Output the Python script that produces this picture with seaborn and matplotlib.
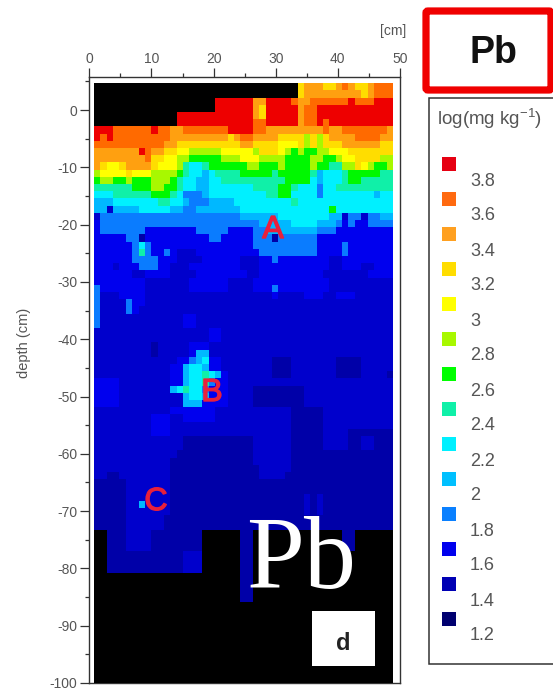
import re
import numpy as np
import pandas as pd
import seaborn as sns
import matplotlib
matplotlib.use("Agg")
import matplotlib.pyplot as plt
import matplotlib.patheffects as pe
from matplotlib.colors import ListedColormap, BoundaryNorm
from matplotlib.patches import Rectangle, FancyBboxPatch
from matplotlib.ticker import MultipleLocator

# ---- data: cell levels per 1.25 cm depth row, run-length coded across 47 columns ----
surface_rows = [
    "32. k 3l 2k l m l 2k l 3m", "32. k 9l k l 3m", "19. 6n 2l 4n m 2l 6m n 3m 3n",
    "19. 6n l k 5n l 2m 12n", "13. 12n l k 5n l 2m 12n", "13. 12n 2m 5n l 2m n m 10n",
    "3n 6m n 2m 2l 7m 4n 2m 5l 4l m 2l 7m l",
    "n m n 9m 9l k l 2m 4l 3k k i k i k 4l 4m 2l",
    "11m 2l 10k 2l 4k 3j k i k i 3k 6l 2k",
    "7l n m 2l 2k 2j 5i 5j i 3k j i h i 2h 2i 3j 7k",
    "8l m 2k 2j 2i 5h 3i 2j j i 3i 4h 2i 2h i 2j 4k 2i",
    "l k 2j k 4l k 3j i g 2f g 6h 2i 3h i 4h i 2h 2g 2i k j i 2h i",
    "i 4j k 3j 4i h g 2f e f 4g 5h g 5h g e 3f g 5h 2g",
    "h 2i 2h i 3h 3i h g 2f 2e 2f 10g 4h f e 3f g 2h 5g",
    "6g 3h 2i 2h g 2f 2e 7f 4g 2h g 3f d 2f 9g",
    "3f 3g 3g 3h g f 3d e 9f 2g 2h 4f d 8f e 2f",
    "3e 7f 2g 2f e 3d 4e 9f g 15f",
    "2e c 4e 5f 2e 2d 7e 14f h 9f",
    "c 22d 6e 8f 2e c 2d c 2d 2e",
]
upper_rows = [
    "C 25d 5e 4f 3e d C d 2C 4d",
    "C 7d 8C 5d 4C 2d 8e 3d 9C",
    "5C 2d b 10C 2d 5C 3d b 6d 12C",
    "6C d f d 16C 10d 4C d 7C",
    "6C d g d 2C d C 3c 10C 9d 4C d 7C",
    "6C 4d 3C 4c 6C 3c 2C d 8C 2c 2C 6C",
    "3C c 3C 3d 2C 3c 8C 3c 11C 2c 3C 2c 3C",
    "6C 2c 4C 4c 8C 2c 10C 7c 4C",
    "8C 7c 6C 4c 12C 10c",
    "d 7C 7c 6C 4c 3C d 8C 10c",
    "d 3c 4C 20c C 4c 3C 2c 3C 6c",
    "d 4c d 2C 39c", "d 4c d C 40c",
    "d 13c 2C 31c", "d 13c 2C 31c",
    "18c 2C 27c", "18c 2C 27c",
]
blob_rows = [
    "9c b 5c 3C 29c",
    "9c b 5c C 2e 29c",
    "13c 2C d e f C C 8c 3b 7c 4b 6c",
    "12c 2C e 2f e C C 8c 3b 7c 4b 6c",
    "12c 2C e 2f g f e C 7c 3b 7c 4b 4c b c",
    "4C 8c 2C e 2f g d 2C 26c",
    "4C 8c e f g 2f d 3C 4c 8b 14c",
    "4C 10c e 2f e 3C 4c 8b 14c",
    "4C 10c 3e 4C 4c 8b 14c",
    "12c 7C 6c 6c 5b 4c 7c",
    "9c 3C 2c 5C 12c 5b 4c 7c",
    "9c 3C 19c 5b 4c 7c",
    "9c 3C 19c 5b 4c 7b",
]
lower_rows = [
    "14c 11b 6c 5b 4c 2b 2c 3b", "14c 11b 6c 5b 4c 2b 2c 3b",
    "13c 12b 6c 16b", "12c 13b 6c 16b", "12c 14b 5c 16b",
    "2c 2b 8c 14b 4c 17b", "5b 7c 35b", "5b 7c 35b",
    "5b 7c 21b c b c 11b", "5b 2c e 4c 21b c b c 11b", "5b 7c 21b c b c 11b",
    "5b 6c 36b", "5b 6c 36b",
]
bottom_rows = [
    "2. 3b 4c 8b 6. 2b 14. 2b 6.", "2. 3b 4c 8b 6. 2b 14. 2b 6.", "2. 3b 4c 8b 6. 2b 14. 2b 6.",
    "2. 12b 3c 6. 2b 22.", "2. 12b 3c 6. 2b 22.", "2. 12b 3c 6. 2b 22.",
    "23. 2b 22.", "23. 2b 22.", "23. 2b 22.", "23. 2b 22.",
] + ["47."] * 12

level_codes = list("abcCdefghijklmn")
level_values = [1.2, 1.4, 1.5, 1.6, 1.8, 2.0, 2.2, 2.4, 2.6, 2.8, 3.0, 3.2, 3.4, 3.6, 3.8]
level_colors = ["#000078", "#0000a8", "#0000cc", "#0000ee", "#0a7cff", "#00b8ff", "#00f0ff",
                "#10f0a8", "#00f800", "#a8f800", "#ffff00", "#ffdd00", "#ffa010", "#ff6a00", "#ee0000"]

legend_labels = ["3.8", "3.6", "3.4", "3.2", "3", "2.8", "2.6", "2.4", "2.2", "2", "1.8", "1.6", "1.4", "1.2"]
legend_colors = ["#e60012", "#ff6a10", "#ffa020", "#ffdd00", "#ffff00", "#a8f800", "#00ff00",
                 "#10f0a8", "#00f0ff", "#00c0ff", "#0a80ff", "#0000ee", "#0000b4", "#000070"]
sample_labels = ["A", "B", "C"]

n_cols = 47


def decode(row):
    cells = []
    for count, code in re.findall(r"(\d*)(\S)", row):
        cells += [code] * int(count or 1)
    cells = (cells + cells[-1:] * n_cols)[:n_cols]
    lookup = dict(zip(level_codes, level_values))
    return [lookup.get(c, np.nan) for c in cells]


all_rows = surface_rows + upper_rows + blob_rows + lower_rows + bottom_rows
grid = pd.DataFrame([decode(r) for r in all_rows])

# ---- style ----
W, H = 553, 690
sns.set_theme(style="ticks")
plt.rcParams["font.family"] = ["Liberation Sans", "DejaVu Sans"]
plt.rcParams["axes.unicode_minus"] = False
plt.rcParams["mathtext.default"] = "regular"
ink = "#555555"
edge = "#333333"

fig = plt.figure(figsize=(W / 100, H / 100), dpi=100, facecolor="white")


def px_axes(left, top, right, bottom, **kw):
    return fig.add_axes([left / W, 1 - bottom / H, (right - left) / W, (bottom - top) / H], **kw)


# frame with ticks in real units
ax = px_axes(89.3, 77, 400, 683)
ax.set_xlim(0, 50)
ax.set_ylim(-100, 5.76)
ax.xaxis.tick_top()
ax.xaxis.set_major_locator(MultipleLocator(10))
ax.xaxis.set_minor_locator(MultipleLocator(5))
ax.yaxis.set_major_locator(MultipleLocator(10))
ax.yaxis.set_minor_locator(MultipleLocator(5))
ax.tick_params(axis="both", which="major", length=6.5, width=0.9, color=edge,
               labelcolor=ink, labelsize=10, pad=2)
ax.tick_params(axis="x", which="major", pad=1.2)
ax.tick_params(axis="both", which="minor", length=3, width=0.9, color=edge)
ax.xaxis.set_tick_params(which="both", top=True, bottom=False)
for s in ax.spines.values():
    s.set_visible(True)
    s.set_color(edge)
    s.set_linewidth(1.0)

# heat map
heat = px_axes(94, 83.3, 393, 683)
heat.set_facecolor("black")
edges = [0.0, 1.3, 1.45, 1.55, 1.7, 1.9, 2.1, 2.3, 2.5, 2.7, 2.9, 3.1, 3.3, 3.5, 3.7, 3.9]
sns.heatmap(grid, ax=heat, cmap=ListedColormap(level_colors),
            norm=BoundaryNorm(edges, len(level_colors)), cbar=False,
            xticklabels=False, yticklabels=False, linewidths=0)
heat.set_facecolor("black")
heat.set_ylim(83.3, 0)
heat.set_xlim(0, n_cols)
heat.set_xlabel("")
heat.set_ylabel("")

# overlay in picture pixels: annotations and the legend
over = fig.add_axes([0, 0, 1, 1], facecolor="none")
over.set_xlim(0, W)
over.set_ylim(H, 0)
over.axis("off")

over.text(24, 343, "depth (cm)", ha="center", va="center", rotation=90, fontsize=10.5, color=ink)
over.text(393, 31, "[cm]", ha="center", va="center", fontsize=10, color=ink)
sample_pos = [(273, 230), (212, 393), (156, 502)]
for lab, (x, y) in zip(sample_labels, sample_pos):
    over.text(x, y, lab, ha="center", va="center", fontsize=23, color="#e8203c",
              path_effects=[pe.withStroke(linewidth=1.0, foreground="#e8203c")])

over.text(301, 588, "Pb", ha="center", va="baseline", fontsize=75, color="white",
          family="Liberation Serif")
over.add_patch(Rectangle((312, 611), 63, 55, fc="white", ec="none"))
over.text(343, 643, "d", ha="center", va="center", fontsize=17, fontweight="bold", color="#222222")

over.add_patch(FancyBboxPatch((426, 11), 125, 79, boxstyle="round,pad=0,rounding_size=2",
                              fc="white", ec="#f00000", lw=5.2))
over.text(493, 53, "Pb", ha="center", va="center", fontsize=27, fontweight="bold", color="#111111")

over.add_patch(Rectangle((428.5, 97.5), 140, 566, fc="white", ec="#333333", lw=1.1))
over.text(437, 119, r"log(mg kg$^{-1}$)", ha="left", va="center", fontsize=13.5, color=ink)
for i, (lab, col) in enumerate(zip(legend_labels, legend_colors)):
    y = 157 + 35 * i
    over.add_patch(Rectangle((442, y), 14, 14, fc=col, ec="none"))
    over.text(470, y + 24, lab, ha="left", va="center", fontsize=13, color=ink)

fig.savefig("out.png", dpi=100, facecolor="white")
